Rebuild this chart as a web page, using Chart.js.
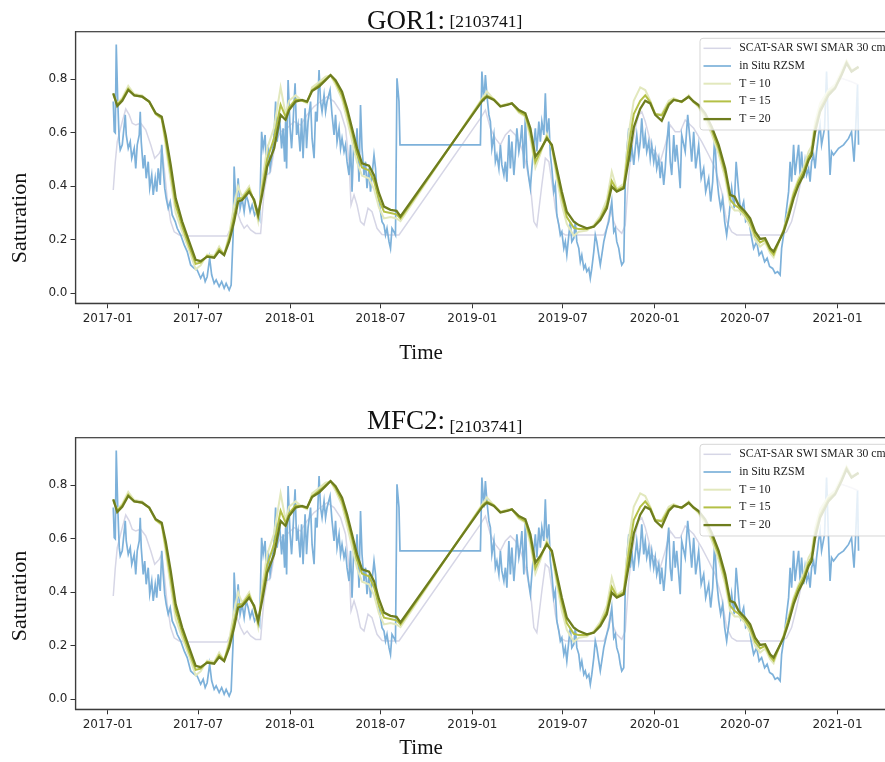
<!DOCTYPE html>
<html>
<head>
<meta charset="utf-8">
<script src="https://cdn.jsdelivr.net/npm/chart.js@4.4.1/dist/chart.umd.min.js"></script>
<style>
  html, body { margin: 0; padding: 0; background: #fff; }
  body { width: 885px; height: 762px; overflow: hidden; position: relative; }
  canvas { position: absolute; left: 0; }
  #top { top: 0; }
  #bottom { top: 406px; }
</style>
</head>
<body>
<canvas id="top" width="905" height="400"></canvas>
<canvas id="bottom" width="905" height="356"></canvas>
<script>
// x values are days since 2017-01-01
const tickDays = [0, 181, 365, 546, 730, 911, 1095, 1276, 1461];
const tickLabels = ['2017-01', '2017-07', '2018-01', '2018-07', '2019-01', '2019-07', '2020-01', '2020-07', '2021-01'];
const yTicks = [0.0, 0.2, 0.4, 0.6, 0.8];

// in situ root zone soil moisture (noisy blue)
const situDays = [
  11, 13, 15, 17, 20, 23, 25, 29, 33, 35,
  37, 41, 45, 48, 53, 56, 59, 63, 65, 67,
  71, 74, 77, 81, 84, 88, 91, 95, 98, 101,
  105, 108, 111, 114, 117, 121, 125, 129, 135, 139,
  146, 153, 159, 166, 173, 179, 186, 191, 195, 199,
  204, 208, 213, 217, 223, 228, 233, 237, 243, 247,
  251, 253, 257, 261, 265, 269, 273, 277, 281, 285,
  289, 294, 299, 304, 308, 311, 315, 318, 321, 325,
  329, 333, 336, 339, 344, 348, 351, 354, 356, 358,
  361, 365, 368, 371, 375, 378, 381, 385, 388, 391,
  395, 398, 401, 406, 409, 413, 416, 419, 423, 426,
  429, 433, 436, 439, 445, 449, 453, 456, 459, 463,
  466, 469, 473, 476, 479, 483, 486, 489, 493, 496,
  499, 503, 506, 509, 513, 516, 519, 523, 526, 529,
  533, 536, 539, 543, 546, 549, 553, 556, 559, 563,
  566, 569, 573, 576, 579, 583, 585, 746, 749, 753,
  756, 759, 763, 766, 769, 773, 776, 779, 783, 786,
  789, 793, 796, 799, 803, 806, 809, 813, 816, 819,
  823, 826, 829, 833, 836, 839, 843, 846, 849, 853,
  856, 859, 863, 866, 869, 873, 876, 879, 883, 886,
  889, 893, 896, 899, 903, 906, 909, 913, 916, 919,
  923, 926, 929, 933, 936, 939, 943, 946, 949, 953,
  956, 959, 963, 966, 969, 973, 976, 979, 983, 986,
  989, 993, 996, 999, 1003, 1006, 1009, 1013, 1016, 1019,
  1023, 1026, 1029, 1033, 1036, 1039, 1043, 1046, 1049, 1053,
  1056, 1059, 1063, 1066, 1069, 1073, 1076, 1079, 1083, 1086,
  1089, 1093, 1096, 1099, 1103, 1106, 1109, 1113, 1116, 1119,
  1123, 1126, 1129, 1133, 1136, 1139, 1143, 1146, 1149, 1156,
  1161, 1166, 1169, 1173, 1177, 1183, 1188, 1193, 1197, 1203,
  1207, 1211, 1215, 1219, 1223, 1227, 1231, 1235, 1239, 1244,
  1249, 1254, 1258, 1263, 1267, 1273, 1277, 1283, 1288, 1293,
  1299, 1304, 1309, 1315, 1320, 1325, 1331, 1336, 1341, 1346,
  1349, 1353, 1356, 1359, 1363, 1366, 1369, 1373, 1376, 1379,
  1383, 1386, 1389, 1393, 1396, 1399, 1403, 1406, 1409, 1413,
  1416, 1419, 1423, 1426, 1429, 1435, 1439, 1443, 1446, 1449,
  1453, 1463, 1473, 1483, 1489, 1494, 1497, 1501, 1503
];
const situVals = [
  .717, .604, .600, .930, .717, .567, .536, .555, .629, .667,
  .592, .542, .567, .505, .542, .467, .555, .592, .679, .567,
  .467, .517, .430, .492, .393, .442, .368, .430, .380, .467,
  .405, .555, .467, .393, .355, .318, .343, .293, .268, .243,
  .218, .181, .156, .106, .093, .087, .056, .075, .044, .062,
  .131, .069, .037, .050, .025, .044, .019, .037, .012, .031,
  .218, .474, .318, .430, .318, .355, .305, .368, .343, .305,
  .330, .293, .312, .280, .604, .542, .592, .442, .555, .467,
  .517, .592, .717, .567, .654, .542, .617, .492, .642, .467,
  .797, .617, .542, .642, .785, .592, .629, .530, .654, .505,
  .692, .542, .642, .717, .579, .505, .679, .642, .835, .717,
  .679, .741, .679, .717, .760, .667, .592, .667, .567, .617,
  .542, .579, .530, .555, .492, .442, .555, .380, .592, .517,
  .617, .417, .704, .542, .442, .492, .393, .467, .380, .442,
  .517, .467, .380, .343, .305, .268, .255, .218, .243, .193,
  .168, .243, .230, .218, .804, .717, .555, .555, .829, .717,
  .816, .741, .667, .642, .542, .592, .492, .517, .467, .555,
  .480, .442, .492, .417, .592, .467, .567, .442, .517, .617,
  .530, .567, .629, .467, .667, .492, .430, .393, .467, .555,
  .617, .530, .642, .567, .642, .592, .748, .592, .654, .517,
  .467, .380, .405, .293, .255, .218, .230, .168, .193, .143,
  .218, .268, .193, .206, .268, .193, .168, .118, .143, .093,
  .106, .081, .093, .056, .093, .156, .218, .193, .143, .106,
  .143, .193, .218, .243, .268, .305, .343, .230, .243, .193,
  .168, .131, .106, .118, .417, .530, .617, .492, .555, .480,
  .542, .592, .517, .567, .654, .542, .592, .530, .567, .505,
  .555, .492, .530, .467, .505, .430, .492, .405, .467, .555,
  .642, .492, .442, .592, .492, .555, .467, .393, .592, .530,
  .667, .567, .492, .604, .467, .555, .430, .467, .380, .430,
  .343, .417, .592, .442, .368, .318, .355, .268, .218, .293,
  .393, .318, .492, .380, .305, .343, .268, .280, .218, .168,
  .193, .143, .156, .118, .131, .100, .093, .075, .081, .069,
  .168, .218, .268, .318, .380, .492, .417, .555, .442, .492,
  .555, .442, .530, .430, .492, .442, .467, .417, .492, .517,
  .467, .530, .592, .629, .555, .617, .829, .592, .442, .530,
  .517, .542, .555, .579, .604, .492, .604, .780, .555
];

// SCAT-SAR SWI SMAR 30 cm
const scatDays = [
  11, 15, 19, 29, 36, 43, 49, 56, 66, 76,
  86, 94, 103, 108, 113, 119, 126, 133, 143, 156,
  239, 246, 253, 259, 266, 273, 279, 286, 296, 306,
  313, 319, 326, 336, 346, 359, 373, 386, 399, 413,
  426, 439, 453, 466, 476, 483, 487, 493, 499, 506,
  513, 521, 529, 539, 549, 559, 583, 746, 756, 766,
  776, 786, 796, 806, 816, 826, 833, 839, 846, 853,
  859, 869, 876, 883, 889, 896, 906, 916, 993, 999,
  1006, 1013, 1019, 1029, 1036, 1043, 1049, 1056, 1063, 1069,
  1076, 1083, 1089, 1096, 1106, 1116, 1126, 1136, 1146, 1156,
  1173, 1189, 1203, 1216, 1229, 1239, 1249, 1259, 1349, 1359,
  1369, 1379, 1389, 1399, 1409, 1419, 1429, 1449, 1469, 1489,
  1503
];
const scatVals = [
  .386, .490, .567, .642, .689, .667, .636, .629, .636, .611,
  .555, .505, .523, .542, .467, .355, .268, .230, .218, .214,
  .214, .243, .318, .305, .268, .243, .255, .237, .224, .224,
  .380, .442, .455, .567, .604, .617, .642, .629, .667, .698,
  .717, .735, .717, .679, .617, .492, .330, .368, .330, .268,
  .255, .318, .305, .243, .220, .218, .218, .654, .685, .617,
  .579, .555, .592, .611, .592, .555, .517, .467, .405, .268,
  .249, .405, .505, .492, .417, .318, .230, .218, .218, .243,
  .318, .268, .243, .224, .255, .442, .542, .617, .667, .679,
  .642, .592, .542, .530, .492, .555, .629, .604, .604, .648,
  .617, .567, .517, .467, .380, .268, .230, .218, .218, .230,
  .268, .343, .430, .480, .542, .617, .717, .766, .804, .791,
  .779
];

// smoothed series, shared dates
const tDays = [
  11, 19, 29, 41, 53, 69, 83, 96, 108, 116,
  126, 136, 149, 163, 176, 186, 199, 213, 223, 233,
  243, 253, 261, 269, 283, 293, 301, 309, 319, 333,
  346, 356, 363, 376, 389, 399, 409, 423, 436, 446,
  456, 469, 479, 489, 499, 509, 523, 533, 543, 553,
  566, 578, 586, 750, 759, 773, 786, 799, 809, 823,
  836, 846, 856, 866, 879, 889, 899, 909, 919, 933,
  943, 959, 973, 986, 999, 1009, 1019, 1033, 1043, 1053,
  1066, 1076, 1086, 1096, 1109, 1123, 1133, 1149, 1163, 1173,
  1183, 1196, 1209, 1223, 1236, 1246, 1255, 1263, 1276, 1286,
  1296, 1306, 1316, 1326, 1333, 1343, 1353, 1363, 1373, 1383,
  1393, 1403, 1409, 1416, 1426, 1443, 1456, 1469, 1479, 1489,
  1503
];
const t10Vals = [
  .740, .710, .730, .775, .745, .740, .715, .670, .650, .550,
  .420, .300, .230, .160, .090, .105, .145, .140, .175, .145,
  .220, .330, .400, .360, .400, .340, .270, .420, .540, .620,
  .770, .670, .720, .740, .720, .710, .770, .790, .810, .815,
  .780, .725, .650, .570, .490, .440, .430, .390, .320, .280,
  .285, .280, .270, .730, .755, .725, .700, .710, .710, .675,
  .660, .580, .470, .520, .595, .545, .430, .330, .260, .215,
  .230, .235, .255, .290, .350, .455, .390, .410, .600, .720,
  .770, .760, .720, .670, .670, .720, .730, .715, .740, .715,
  .695, .650, .595, .520, .430, .330, .310, .310, .285, .250,
  .200, .175, .190, .150, .135, .190, .240, .310, .380, .430,
  .470, .530, .550, .640, .710, .760, .780, .830, .870, .835,
  .845
];
const t15Vals = [
  .745, .705, .725, .765, .740, .735, .715, .670, .655, .570,
  .450, .330, .250, .175, .110, .115, .140, .135, .165, .145,
  .205, .290, .355, .355, .390, .345, .285, .390, .500, .580,
  .705, .660, .695, .725, .720, .715, .760, .780, .800, .815,
  .790, .740, .675, .600, .520, .470, .460, .420, .350, .305,
  .300, .295, .280, .725, .740, .725, .700, .705, .710, .680,
  .665, .600, .490, .530, .585, .550, .450, .360, .285, .245,
  .240, .240, .250, .280, .330, .420, .385, .400, .550, .670,
  .720, .740, .715, .670, .665, .710, .725, .715, .735, .715,
  .700, .665, .610, .540, .450, .350, .330, .320, .295, .265,
  .215, .190, .200, .160, .145, .190, .235, .300, .370, .420,
  .455, .510, .530, .620, .690, .750, .770, .820, .865, .830,
  .845
];
const t20Vals = [
  .748, .700, .720, .760, .740, .735, .717, .673, .660, .590,
  .480, .355, .268, .193, .125, .120, .137, .133, .158, .143,
  .193, .268, .343, .349, .380, .350, .293, .368, .473, .542,
  .667, .648, .685, .717, .723, .717, .756, .773, .797, .816,
  .797, .754, .692, .617, .542, .486, .477, .442, .374, .324,
  .312, .308, .287, .720, .735, .723, .698, .704, .710, .685,
  .673, .617, .511, .536, .579, .555, .467, .380, .305, .268,
  .255, .243, .249, .274, .318, .399, .380, .393, .500, .620,
  .690, .720, .710, .667, .645, .704, .723, .717, .735, .717,
  .704, .673, .623, .555, .467, .368, .361, .330, .305, .280,
  .230, .203, .206, .168, .156, .193, .230, .287, .355, .405,
  .442, .498, .517, .604, .679, .741, .766, .816, .860, .829,
  .847
];

const X_MIN = -64.6, X_MAX = 1577;
const Y_MIN = -0.0374, Y_MAX = 0.978;

function pts(days, vals) {
  return days.map((d, i) => ({ x: d, y: vals[i] }));
}

function buildDatasets() {
  return [
    { label: 'SCAT-SAR SWI SMAR 30 cm', data: pts(scatDays, scatVals), borderColor: '#d6d6e6', borderWidth: 1.5, order: 5 },
    { label: 'in Situ RZSM', data: pts(situDays, situVals), borderColor: '#7db1da', borderWidth: 1.7, order: 4 },
    { label: 'T = 10', data: pts(tDays, t10Vals), borderColor: '#e2e8bd', borderWidth: 2, order: 3 },
    { label: 'T = 15', data: pts(tDays, t15Vals), borderColor: '#b4c046', borderWidth: 2, order: 2 },
    { label: 'T = 20', data: pts(tDays, t20Vals), borderColor: '#6e7d1e', borderWidth: 2.3, order: 1 }
  ];
}

// frame + matplotlib-like legend box
const legendBox = {
  id: 'legendBox',
  afterDatasetsDraw(chart) {
    const ctx = chart.ctx, a = chart.chartArea;
    ctx.save();
    ctx.strokeStyle = '#3c3c3c';
    ctx.lineWidth = 1.2;
    ctx.strokeRect(a.left, a.top, a.right - a.left, a.bottom - a.top);

    const x = 700, y = a.top + 6.6, w = 193, h = 91.7;
    ctx.beginPath();
    ctx.roundRect(x, y, w, h, 3);
    ctx.fillStyle = 'rgba(255,255,255,0.8)';
    ctx.fill();
    ctx.strokeStyle = 'rgba(204,204,204,0.8)';
    ctx.lineWidth = 1;
    ctx.stroke();

    ctx.font = '11.7px "Liberation Serif"';
    ctx.textBaseline = 'middle';
    ctx.textAlign = 'left';
    chart.data.datasets.forEach((ds, i) => {
      const ly = y + 10 + i * 17.7;
      ctx.strokeStyle = ds.borderColor;
      ctx.lineWidth = ds.borderWidth;
      ctx.beginPath();
      ctx.moveTo(x + 3.5, ly);
      ctx.lineTo(x + 31, ly);
      ctx.stroke();
      ctx.fillStyle = '#222';
      ctx.fillText(ds.label, x + 39.3, ly);
    });
    ctx.restore();
  }
};

// title and axis labels
const panelText = {
  id: 'panelText',
  afterDraw(chart, args, opts) {
    const ctx = chart.ctx;
    ctx.save();
    ctx.fillStyle = '#111';
    ctx.textBaseline = 'alphabetic';
    ctx.font = '27px "Liberation Serif"';
    ctx.textAlign = 'right';
    ctx.fillText(opts.name, 445, opts.nameY);
    ctx.font = '17.5px "Liberation Serif"';
    ctx.textAlign = 'left';
    ctx.fillText(opts.code, 449.5, opts.codeY);

    ctx.textAlign = 'center';
    ctx.textBaseline = 'middle';
    ctx.font = '21px "Liberation Serif"';
    ctx.fillText('Time', 421, opts.timeY);
    ctx.translate(20, opts.satY);
    ctx.rotate(-Math.PI / 2);
    ctx.font = '22px "Liberation Serif"';
    ctx.fillText('Saturation', 0, 0);
    ctx.restore();
  }
};

const tickFont = { family: 'DejaVu Sans', size: 12 };

function makeChart(id, text) {
  return new Chart(document.getElementById(id), {
    type: 'line',
    data: { datasets: buildDatasets() },
    options: {
      responsive: false,
      animation: false,
      layout: { padding: { left: 0, top: 31.7, right: 905 - 895.5, bottom: 0 } },
      elements: { point: { radius: 0 }, line: { tension: 0, fill: false } },
      plugins: {
        legend: { display: false },
        tooltip: { enabled: false },
        panelText: text
      },
      scales: {
        x: {
          type: 'linear',
          min: X_MIN,
          max: X_MAX,
          afterFit: s => { s.height = s.chart.height - 303.3; },
          afterBuildTicks: s => { s.ticks = tickDays.map(v => ({ value: v })); },
          grid: { drawOnChartArea: false, drawTicks: true, tickLength: 5, color: '#333' },
          border: { display: true, color: '#3c3c3c', width: 1.2 },
          ticks: {
            autoSkip: false, maxRotation: 0, minRotation: 0, padding: 3,
            color: '#262626', font: tickFont,
            callback: (v, i) => tickLabels[i]
          }
        },
        y: {
          min: Y_MIN,
          max: Y_MAX,
          afterFit: s => { s.width = 75.5; },
          afterBuildTicks: s => { s.ticks = yTicks.map(v => ({ value: v })); },
          grid: { drawOnChartArea: false, drawTicks: true, tickLength: 5, color: '#333' },
          border: { display: true, color: '#3c3c3c', width: 1.2 },
          ticks: {
            padding: 3, color: '#262626', font: tickFont,
            callback: v => v.toFixed(1)
          }
        }
      }
    },
    plugins: [legendBox, panelText]
  });
}

makeChart('top', { name: 'GOR1:', code: '[2103741]', nameY: 29, codeY: 26.5, timeY: 353, satY: 218 });
makeChart('bottom', { name: 'MFC2:', code: '[2103741]', nameY: 23.3, codeY: 25.7, timeY: 342, satY: 190 });
</script>
</body>
</html>
